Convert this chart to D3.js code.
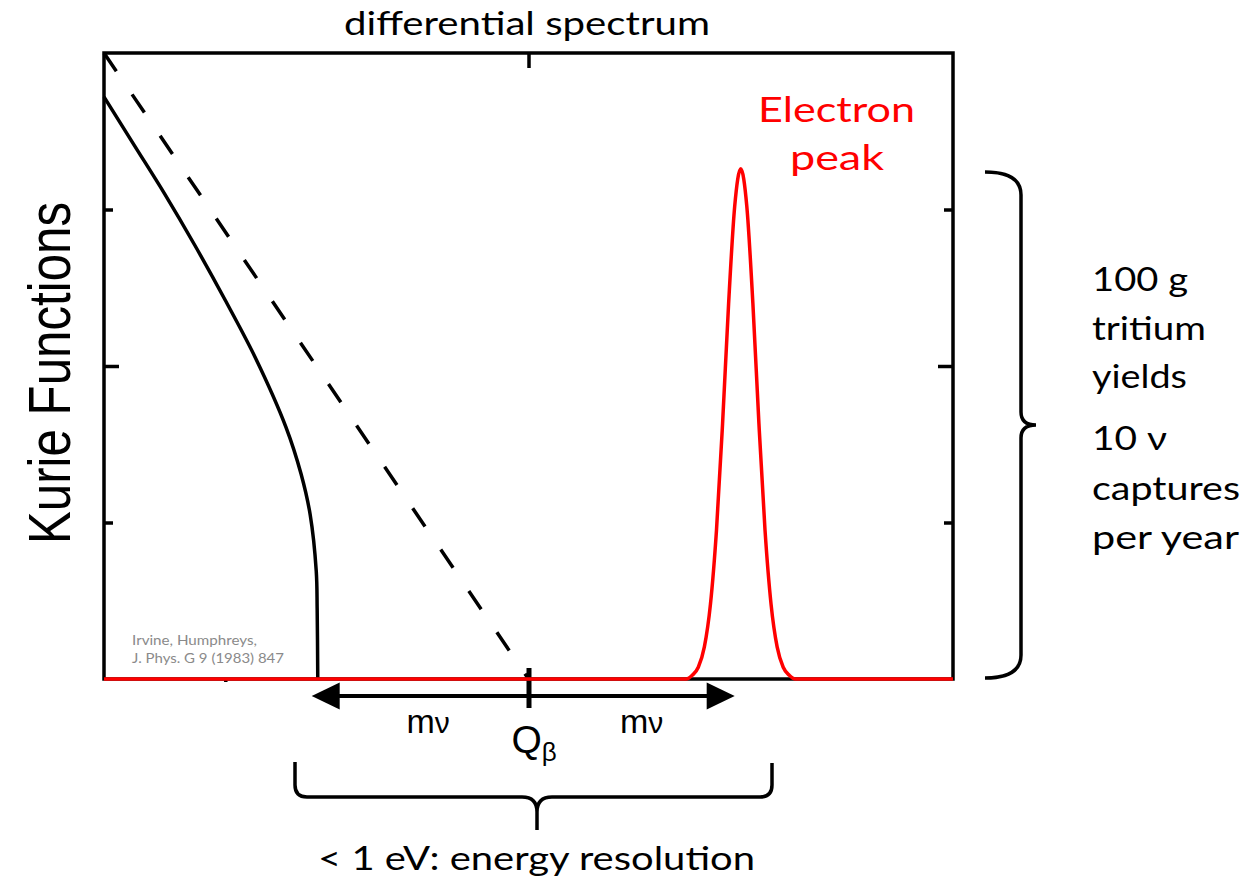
<!DOCTYPE html>
<html>
<head>
<meta charset="utf-8">
<script src="https://cdn.jsdelivr.net/npm/d3@7"></script>
<style>
  html, body { margin: 0; padding: 0; background: #fff; }
  svg { display: block; }
</style>
</head>
<body>
<svg id="chart" width="1248" height="888"></svg>
<script>
// ---------------- data ----------------
const xDomain = [-1.4, 1.4];          // energy relative to Q_beta (arbitrary units)
const yDomain = [0, 4];               // Kurie function (arbitrary units)

// Kurie function with a massive neutrino (solid black)
const massiveX = [-1.4, -1.3, -1.2, -1.1, -1.0, -0.9, -0.8, -0.75, -0.72, -0.70, -0.697, -0.695];
const massiveY = [3.72, 3.41, 3.10, 2.77, 2.42, 2.05, 1.61, 1.31, 1.05, 0.69, 0.45, 0.0];

// Kurie function with massless neutrino (dashed black)
const masslessX = [-1.4, 0.0];
const masslessY = [4.0, 0.0];

// Electron capture peak (red)
const peakX = [-1.4, 0.52, 0.54, 0.56, 0.58, 0.60, 0.62, 0.64, 0.66, 0.68, 0.70, 0.72, 0.74, 0.76, 0.78, 0.80, 0.82, 0.84, 0.86, 0.88, 1.4];
const peakY = [0.0, 0.0, 0.024, 0.075, 0.205, 0.477, 0.952, 1.63, 2.40, 3.02, 3.26, 3.02, 2.40, 1.63, 0.952, 0.477, 0.205, 0.075, 0.024, 0.0, 0.0];

// ticks
const yTicksMajor = [2];
const yTicksMinor = [1, 3];
const xTicksMajor = [0];
const xTicksMinor = [-1];

// annotation positions (data units)
const arrowLeftX = -0.715;
const arrowRightX = 0.68;

// texts
const titleText = "differential spectrum";
const yAxisLabel = "Kurie Functions";
const peakLabel = ["Electron", "peak"];
const sideLabel = ["100 g", "tritium", "yields", "10 \u03BD", "captures", "per year"];
const bottomLabel = "< 1 eV: energy resolution";
const citation = ["Irvine, Humphreys,", "J. Phys. G 9 (1983) 847"];

// ---------------- layout ----------------
const M = { left: 104, right: 953, top: 53, bottom: 679 };
const svg = d3.select("#chart");
const x = d3.scaleLinear().domain(xDomain).range([M.left, M.right]);
const y = d3.scaleLinear().domain(yDomain).range([M.bottom, M.top]);

const LW = 3.5;
const RED = "#ff0000";
const sans = "'Liberation Sans', Arial, Helvetica, sans-serif";
const cal = "Lato, 'Open Sans', sans-serif";

// frame
svg.append("rect")
  .attr("x", M.left).attr("y", M.top)
  .attr("width", M.right - M.left).attr("height", M.bottom - M.top)
  .attr("fill", "none").attr("stroke", "#000").attr("stroke-width", LW);

function styleAxis(g) {
  g.select(".domain").remove();
  g.selectAll(".tick line").attr("stroke", "#000").attr("stroke-width", LW);
  g.selectAll(".tick text").remove();
}

// left axis (ticks inward)
svg.append("g").attr("transform", `translate(${M.left},0)`)
  .call(d3.axisRight(y).tickValues(yTicksMajor).tickSize(15).tickFormat("")).call(styleAxis);
svg.append("g").attr("transform", `translate(${M.left},0)`)
  .call(d3.axisRight(y).tickValues(yTicksMinor).tickSize(9).tickFormat("")).call(styleAxis);
// right axis (ticks inward)
svg.append("g").attr("transform", `translate(${M.right},0)`)
  .call(d3.axisLeft(y).tickValues(yTicksMajor).tickSize(15).tickFormat("")).call(styleAxis);
svg.append("g").attr("transform", `translate(${M.right},0)`)
  .call(d3.axisLeft(y).tickValues(yTicksMinor).tickSize(9).tickFormat("")).call(styleAxis);
// top axis
svg.append("g").attr("transform", `translate(0,${M.top})`)
  .call(d3.axisBottom(x).tickValues(xTicksMajor).tickSize(15).tickFormat("")).call(styleAxis);
// bottom axis
svg.append("g").attr("transform", `translate(0,${M.bottom})`)
  .call(d3.axisBottom(x).tickValues(xTicksMinor).tickSize(3).tickFormat("")).call(styleAxis);
const qTick = svg.append("g").attr("transform", `translate(0,${M.bottom})`)
  .call(d3.axisBottom(x).tickValues(xTicksMajor).tickSize(29).tickFormat("")).call(styleAxis);
qTick.selectAll(".tick line").attr("y1", -11).attr("stroke-width", 5);

// curves
const line = d3.line().x(d => x(d[0])).y(d => y(d[1]));

svg.append("path")
  .datum(massiveX.map((v, i) => [v, massiveY[i]]))
  .attr("d", line.curve(d3.curveCatmullRom.alpha(0.5)))
  .attr("fill", "none").attr("stroke", "#000").attr("stroke-width", LW);

svg.append("path")
  .datum(masslessX.map((v, i) => [v, masslessY[i]]))
  .attr("d", d3.line().x(d => x(d[0])).y(d => y(d[1]))
  )
  .attr("fill", "none").attr("stroke", "#000").attr("stroke-width", LW)
  .attr("stroke-dasharray", "22,28");

svg.append("path")
  .datum(peakX.map((v, i) => [v, peakY[i]]))
  .attr("d", d3.line().x(d => x(d[0])).y(d => y(d[1])).curve(d3.curveMonotoneX))
  .attr("fill", "none").attr("stroke", RED).attr("stroke-width", LW)
  .attr("stroke-linejoin", "round");

// double arrow
const ay = 696, headL = 28, headW = 13.5;
const xl = x(arrowLeftX), xr = x(arrowRightX);
svg.append("line")
  .attr("x1", xl + headL - 2).attr("x2", xr - headL + 2)
  .attr("y1", ay).attr("y2", ay)
  .attr("stroke", "#000").attr("stroke-width", 4);
svg.append("path")
  .attr("d", `M${xl},${ay} L${xl + headL},${ay - headW} L${xl + headL},${ay + headW} Z`)
  .attr("fill", "#000");
svg.append("path")
  .attr("d", `M${xr},${ay} L${xr - headL},${ay - headW} L${xr - headL},${ay + headW} Z`)
  .attr("fill", "#000");

// m_nu labels
function mnu(cx) {
  const t = svg.append("text").attr("x", cx).attr("y", 733)
    .attr("text-anchor", "middle").attr("font-family", sans).attr("fill", "#000");
  t.append("tspan").attr("font-size", 34).text("m");
  t.append("tspan").attr("font-size", 30).text("\u03BD");
}
mnu((x(arrowLeftX) + x(0)) / 2 + 8);
mnu((x(arrowRightX) + x(0)) / 2 + 10);

// Q_beta
const qt = svg.append("text").attr("x", x(0) - 17).attr("y", 753)
  .attr("font-family", sans).attr("fill", "#000");
qt.append("tspan").attr("font-size", 39).text("Q");
qt.append("tspan").attr("font-size", 26).attr("dy", 8).text("\u03B2");

// title
svg.append("text").attr("x", 344).attr("y", 35)
  .attr("font-family", cal).attr("font-size", 32)
  .attr("textLength", 366).attr("lengthAdjust", "spacingAndGlyphs")
  .text(titleText);

// y label
svg.append("text")
  .attr("transform", "translate(70,373) rotate(-90) scale(1,1.19)")
  .attr("text-anchor", "middle")
  .attr("font-family", sans).attr("font-size", 49)
  .attr("textLength", 342).attr("lengthAdjust", "spacingAndGlyphs")
  .text(yAxisLabel);

// electron peak label
const peakPos = [[758, 122, 157], [790, 170, 94]];
peakLabel.forEach((s, i) => {
  svg.append("text").attr("x", peakPos[i][0]).attr("y", peakPos[i][1])
    .attr("font-family", cal).attr("font-size", 35).attr("fill", RED)
    .attr("textLength", peakPos[i][2]).attr("lengthAdjust", "spacingAndGlyphs")
    .text(s);
});

// side label
const sideBase = [291, 340, 388, 450, 500, 549];
const sideLen = [96, 114, 95, 75, 148, 147];
sideLabel.forEach((s, i) => {
  svg.append("text").attr("x", 1092).attr("y", sideBase[i])
    .attr("font-family", cal).attr("font-size", 32).attr("fill", "#000")
    .attr("textLength", sideLen[i]).attr("lengthAdjust", "spacingAndGlyphs")
    .text(s);
});

// bottom label
svg.append("text").attr("x", 318).attr("y", 870)
  .attr("font-family", cal).attr("font-size", 32).attr("fill", "#000")
  .attr("textLength", 437).attr("lengthAdjust", "spacingAndGlyphs")
  .text(bottomLabel);

// citation
const citLen = [125, 152];
citation.forEach((s, i) => {
  svg.append("text").attr("x", 132).attr("y", 645 + i * 18)
    .attr("font-family", cal).attr("font-size", 13).attr("fill", "#8a8a8a")
    .attr("textLength", citLen[i]).attr("lengthAdjust", "spacingAndGlyphs")
    .text(s);
});

// braces
svg.append("path")
  .attr("d", "M295,762 L295,785 Q295,797 307,797 L522,797 Q537,797 537,812 L537,830 M537,812 Q537,797 552,797 L760,797 Q772,797 772,785 L772,763")
  .attr("fill", "none").attr("stroke", "#000").attr("stroke-width", 3.5);
svg.append("path")
  .attr("d", "M985,172 Q1021,172 1021,195 L1021,412 Q1021,425 1036,425 Q1021,425 1021,438 L1021,655 Q1021,678 985,678")
  .attr("fill", "none").attr("stroke", "#000").attr("stroke-width", 3.5);
</script>
</body>
</html>
